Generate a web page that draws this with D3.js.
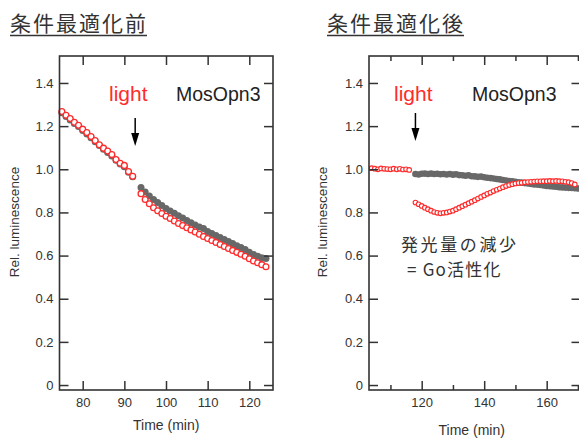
<!DOCTYPE html>
<html><head><meta charset="utf-8">
<script src="https://cdn.jsdelivr.net/npm/d3@7"></script>
<style>
body{margin:0;background:#fff;}
svg{display:block;font-family:"Liberation Sans",Arial,sans-serif;}
</style></head>
<body><svg id="c" width="579" height="439"></svg>
<script>
// ---------- data ----------
const titles = ["条件最適化前", "条件最適化後"];
const seriesLabel = "MosOpn3";
const lightLabel = "light";
const annotation = ["発光量の減少", "= Go活性化"];
const xLabel = "Time (min)";
const yLabel = "Rel. luminescence";
const yTicks = [0, 0.2, 0.4, 0.6, 0.8, 1.0, 1.2, 1.4];
const xTicks1 = [80, 90, 100, 110, 120];
const xTicks2 = [120, 140, 160];
const xMinor2 = [110, 130, 150, 170];
const lightTime1 = 92.6, lightTime2 = 118.0;

// Panel 1 (before optimisation)
const p1RedTime = [75,76,77,78,79,80,81,82,83,84,85,86,87,88,89,90,91,92,
  94,95,96,97,98,99,100,101,102,103,104,105,106,107,108,109,110,111,112,113,114,115,116,117,118,119,120,121,122,123,124];
const p1RedVal = [1.268,1.25,1.235,1.218,1.204,1.186,1.17,1.152,1.133,1.114,1.098,1.085,1.068,1.045,1.028,1.018,0.99,0.968,
  0.887,0.86,0.84,0.822,0.808,0.795,0.782,0.772,0.76,0.749,0.739,0.729,0.719,0.709,0.699,0.689,0.679,0.67,0.661,0.651,0.642,0.633,0.624,0.615,0.606,0.597,0.585,0.575,0.567,0.558,0.548];
const p1GrayTime = [75,76,77,78,79,80,81,82,83,84,85,86,87,88,89,90,91,92,
  94,95,96,97,98,99,100,101,102,103,104,105,106,107,108,109,110,111,112,113,114,115,116,117,118,119,120,121,122,123,124];
const p1GrayVal = [1.262,1.245,1.228,1.212,1.198,1.18,1.164,1.146,1.128,1.11,1.093,1.078,1.062,1.042,1.024,1.012,0.986,0.965,
  0.915,0.895,0.876,0.86,0.846,0.832,0.818,0.807,0.796,0.785,0.774,0.763,0.752,0.742,0.732,0.726,0.712,0.702,0.693,0.684,0.674,0.665,0.656,0.646,0.637,0.628,0.615,0.605,0.597,0.59,0.587];

// Panel 2 (after optimisation)
const p2RedTime = [104,105,106,107,108,109,110,111,112,113,114,115,116,
  118,119,120,121,122,123,124,125,126,127,128,129,130,131,132,133,134,135,136,137,138,139,140,141,142,143,144,145,146,147,148,149,150,151,152,153,154,155,156,157,158,159,160,161,162,163,164,165,166,167,168,169];
const p2RedVal = [1.005,1.003,1.0,1.004,1.002,1.001,1.0,1.003,1.0,1.002,0.999,1.0,0.997,
  0.846,0.838,0.83,0.822,0.815,0.808,0.802,0.798,0.796,0.798,0.8,0.804,0.808,0.815,0.822,0.829,0.836,0.843,0.85,0.857,0.864,0.872,0.879,0.886,0.892,0.899,0.905,0.911,0.917,0.922,0.927,0.931,0.934,0.936,0.938,0.94,0.941,0.942,0.943,0.944,0.944,0.945,0.945,0.946,0.945,0.946,0.945,0.944,0.942,0.94,0.936,0.93];
const p2GrayTime = [118,119,120,121,122,123,124,125,126,127,128,129,130,131,132,133,134,135,136,137,138,139,140,141,142,143,144,145,146,147,148,149,150,151,152,153,154,155,156,157,158,159,160,161,162,163,164,165,166,167,168,169,170];
const p2GrayVal = [0.978,0.976,0.979,0.98,0.978,0.98,0.978,0.979,0.977,0.978,0.976,0.978,0.975,0.977,0.973,0.972,0.97,0.972,0.968,0.967,0.965,0.966,0.963,0.961,0.959,0.957,0.955,0.953,0.95,0.948,0.946,0.944,0.942,0.94,0.938,0.936,0.934,0.932,0.93,0.929,0.927,0.925,0.923,0.921,0.92,0.919,0.917,0.916,0.915,0.914,0.913,0.912,0.911];

// ---------- drawing ----------
const svg = d3.select("#c");
const RED = "#ff2b2b", GRAY = "#686868", INK = "#333";
const cjk = '"Noto Sans CJK JP","Noto Sans",sans-serif';

function panel(o){
  const g = svg.append("g");
  const x = d3.scaleLinear().domain(o.xDomain).range([o.left, o.right]);
  const y = d3.scaleLinear().domain([-0.023, 1.525]).range([390, 56]);

  // data: gray first, red on top
  g.append("g").selectAll("circle").data(o.grayT.map((t,i)=>[t,o.grayV[i]])).join("circle")
    .attr("cx", d=>x(d[0])).attr("cy", d=>y(d[1])).attr("r", o.gr).attr("fill", GRAY);
  g.append("g").selectAll("circle").data(o.redT.map((t,i)=>[t,o.redV[i]])).join("circle")
    .attr("cx", d=>x(d[0])).attr("cy", d=>y(d[1])).attr("r", o.rr)
    .attr("fill", "#fff").attr("stroke", RED).attr("stroke-width", o.rw);

  // frame & ticks
  const styleAx = sel => { sel.select(".domain").remove(); sel.selectAll("line").attr("stroke", INK).attr("stroke-width",1.5);
     sel.selectAll("text").attr("fill", INK).attr("font-size", 13); };
  g.append("g").attr("transform", `translate(${o.left},0)`)
    .call(d3.axisLeft(y).tickValues(yTicks).tickSize(-9).tickPadding(6).tickFormat(d=> d===0?"0":d3.format(".1f")(d))).call(styleAx);
  g.append("g").attr("transform", `translate(${o.right},0)`)
    .call(d3.axisRight(y).tickValues(yTicks).tickSize(-9).tickFormat("")).call(styleAx);
  g.append("g").attr("transform", `translate(0,390)`)
    .call(d3.axisBottom(x).tickValues(o.xTicks).tickSize(-9).tickPadding(8).tickFormat(d3.format("d"))).call(styleAx);
  g.append("g").attr("transform", `translate(0,56)`)
    .call(d3.axisTop(x).tickValues(o.xTicks).tickSize(-9).tickFormat("")).call(styleAx);
  if (o.minor){
    g.append("g").attr("transform", `translate(0,390)`)
      .call(d3.axisBottom(x).tickValues(o.minor).tickSize(-5).tickFormat("")).call(styleAx);
    g.append("g").attr("transform", `translate(0,56)`)
      .call(d3.axisTop(x).tickValues(o.minor).tickSize(-5).tickFormat("")).call(styleAx);
  }
  g.append("rect").attr("x", o.left).attr("y", 56).attr("width", o.right-o.left).attr("height", 334)
    .attr("fill","none").attr("stroke", INK).attr("stroke-width", 1.6);

  // axis labels
  g.append("text").attr("x", (o.left+o.right)/2 + (o.xlabDx||0)).attr("y", o.xlabY).attr("text-anchor","middle")
    .attr("font-size",14).attr("fill",INK).text(xLabel);
  g.append("text").attr("transform", `translate(${o.ylabX},222) rotate(-90)`).attr("text-anchor","middle")
    .attr("font-size",13.5).attr("fill",INK).text(yLabel);

  // title
  g.append("text").attr("x", o.titleX).attr("y", 31).attr("font-family", cjk).attr("font-size", 21)
    .attr("letter-spacing", 2).attr("fill", INK).text(o.title);
  g.append("line").attr("x1", o.titleX).attr("x2", o.titleX + o.titleW).attr("y1", 35.5).attr("y2", 35.5)
    .attr("stroke", INK).attr("stroke-width", 1.3);

  // light label & arrow
  const ax = x(o.lightT);
  g.append("text").attr("x", o.lightX).attr("y", o.lightY).attr("font-size", 21).attr("fill", RED).text(lightLabel);
  g.append("line").attr("x1", ax).attr("x2", ax).attr("y1", o.arrowTop).attr("y2", o.arrowBot-10)
    .attr("stroke","#000").attr("stroke-width",1.5);
  g.append("path").attr("d", `M${ax-4},${o.arrowBot-13}L${ax+4},${o.arrowBot-13}L${ax},${o.arrowBot}Z`).attr("fill","#000");
  g.append("text").attr("x", o.mosX).attr("y", 101).attr("font-size", 19.5).attr("fill", "#222").text(seriesLabel);
  return {g, x, y};
}

panel({xDomain:[74.43,125.69], left:59.5, right:273, xTicks:xTicks1,
  redT:p1RedTime, redV:p1RedVal, grayT:p1GrayTime, grayV:p1GrayVal, rr:2.9, rw:1.3, gr:3.5,
  xlabY:430, ylabX:19, title:titles[0], titleX:10, titleW:137,
  lightT:lightTime1, lightX:109, lightY:101, arrowTop:118, arrowBot:146, mosX:176});

const p2 = panel({xDomain:[103.14,170.82], left:369, right:580.5, xTicks:xTicks2, minor:xMinor2,
  redT:p2RedTime, redV:p2RedVal, grayT:p2GrayTime, grayV:p2GrayVal, rr:2.3, rw:1.1, gr:3.3,
  xlabY:435, xlabDx:-3, ylabX:327, title:titles[1], titleX:327, titleW:137,
  lightT:lightTime2, lightX:394, lightY:101, arrowTop:113, arrowBot:141, mosX:472});

p2.g.append("text").attr("x", 401).attr("y", 251).attr("font-family", cjk).attr("font-size", 17)
  .attr("letter-spacing", 2.6).attr("fill", INK).text(annotation[0]);
p2.g.append("text").attr("x", 407).attr("y", 276).attr("font-family", cjk).attr("font-size", 17)
  .attr("letter-spacing", 1.2).attr("fill", INK).text(annotation[1]);
</script></body></html>
